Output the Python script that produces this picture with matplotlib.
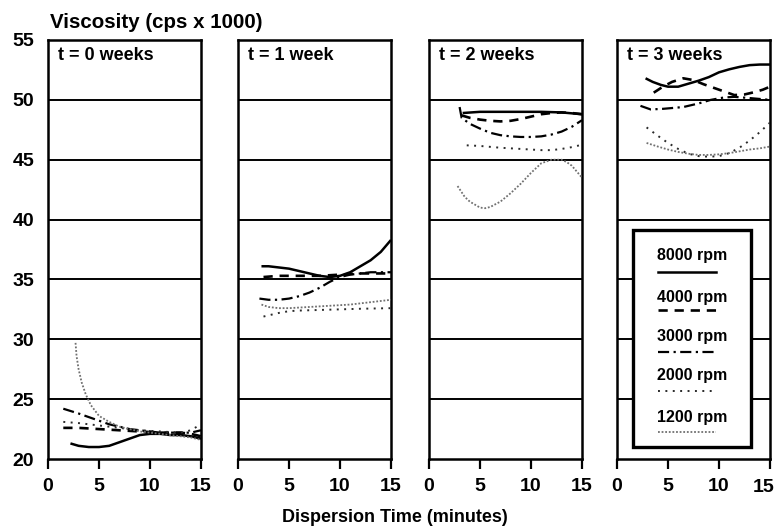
import matplotlib
matplotlib.use("Agg")
import matplotlib.pyplot as plt
from matplotlib.lines import Line2D
from matplotlib.patches import Rectangle

plt.rcParams['font.family'] = ['Liberation Sans', 'DejaVu Sans']
plt.rcParams['font.weight'] = 'bold'

# ---------------- data ----------------
panel_titles = ['t = 0 weeks', 't = 1 week', 't = 2 weeks', 't = 3 weeks']
speeds = ['8000 rpm', '4000 rpm', '3000 rpm', '2000 rpm', '1200 rpm']
x_ticks = [0, 5, 10, 15]
y_ticks = [20, 25, 30, 35, 40, 45, 50, 55]

# t = 0 weeks
w0_x8000 = [2.2, 3, 4, 5, 6, 7, 8, 9, 10, 11, 12, 13, 14, 15]
w0_y8000 = [21.3, 21.1, 21.0, 21.0, 21.1, 21.4, 21.7, 22.0, 22.1, 22.1, 22.0, 22.0, 21.9, 21.7]
w0_x4000 = [1.5, 3, 5, 7, 9, 11, 13, 14, 15]
w0_y4000 = [22.6, 22.6, 22.5, 22.4, 22.3, 22.2, 22.2, 22.1, 21.9]
w0_x3000 = [1.5, 3, 4, 5, 6, 7, 8, 9, 10, 11, 12, 13, 14, 15]
w0_y3000 = [24.2, 23.8, 23.5, 23.2, 22.9, 22.7, 22.5, 22.4, 22.3, 22.2, 22.2, 22.2, 22.2, 22.4]
w0_x2000 = [1.5, 3, 5, 7, 9, 11, 13, 14, 15]
w0_y2000 = [23.1, 23.0, 22.8, 22.6, 22.4, 22.3, 22.2, 22.4, 22.9]
w0_x1200 = [2.7, 2.8, 3.0, 3.3, 3.7, 4.2, 5, 6, 7, 8, 9, 10, 11, 12, 13, 14, 15]
w0_y1200 = [29.7, 28.6, 27.5, 26.4, 25.4, 24.5, 23.6, 23.1, 22.7, 22.5, 22.3, 22.2, 22.1, 22.0, 21.9, 21.8, 21.6]

# t = 1 week
w1_x8000 = [2.3, 3, 4, 5, 6, 7, 8, 9, 10, 11, 12, 13, 14, 15]
w1_y8000 = [36.1, 36.1, 36.0, 35.9, 35.7, 35.5, 35.3, 35.2, 35.3, 35.6, 36.1, 36.6, 37.3, 38.3]
w1_x4000 = [2.5, 4, 6, 8, 10, 12, 15]
w1_y4000 = [35.2, 35.3, 35.3, 35.3, 35.4, 35.5, 35.5]
w1_x3000 = [2.1, 3, 4, 5, 6, 7, 8, 9, 10, 11, 12, 13, 14, 15]
w1_y3000 = [33.4, 33.3, 33.3, 33.4, 33.6, 33.9, 34.3, 34.8, 35.2, 35.4, 35.5, 35.6, 35.6, 35.6]
w1_x2000 = [2.5, 3, 4, 5, 6, 8, 10, 12, 15]
w1_y2000 = [31.9, 32.0, 32.2, 32.35, 32.4, 32.45, 32.5, 32.55, 32.6]
w1_x1200 = [2.3, 3, 4, 5, 7, 9, 11, 13, 15]
w1_y1200 = [32.9, 32.7, 32.6, 32.6, 32.7, 32.8, 32.9, 33.1, 33.3]

# t = 2 weeks
w2_x8000 = [3.3, 5, 7, 9, 11, 13, 15]
w2_y8000 = [48.9, 49.0, 49.0, 49.0, 49.0, 48.95, 48.8]
w2_x4000 = [3.2, 4, 5, 6, 7, 8, 9, 10, 11, 12, 13, 14, 15]
w2_y4000 = [48.7, 48.5, 48.35, 48.25, 48.2, 48.25, 48.4, 48.6, 48.8, 48.9, 48.95, 48.9, 48.8]
w2_x3000 = [3.0, 3.2, 4, 5, 6, 7, 8, 9, 10, 11, 12, 13, 14, 15]
w2_y3000 = [49.4, 48.5, 48.0, 47.6, 47.25, 47.05, 46.95, 46.9, 46.9, 46.95, 47.1, 47.35, 47.75, 48.3]
w2_x2000 = [3.7, 5, 7, 9, 11, 12, 13, 14, 15]
w2_y2000 = [46.2, 46.15, 46.0, 45.9, 45.8, 45.8, 45.9, 46.05, 46.25]
w2_x1200 = [2.8, 3.5, 4, 5, 5.5, 6, 7, 8, 9, 10, 11, 12, 13, 13.5, 14, 15]
w2_y1200 = [42.8, 41.9, 41.5, 41.0, 40.95, 41.05, 41.5, 42.2, 43.0, 43.9, 44.7, 45.0, 45.0, 44.8, 44.5, 43.5]

# t = 3 weeks
w3_x8000 = [2.8, 3.5, 4.3, 5, 6, 7, 8, 9, 10, 11, 12, 13, 14, 15]
w3_y8000 = [51.8, 51.5, 51.25, 51.1, 51.1, 51.35, 51.6, 51.9, 52.3, 52.55, 52.75, 52.9, 52.95, 52.95]
w3_x4000 = [3.6, 4.5, 5.4, 6.5, 7.5, 8.5, 9.5, 10.5, 11.5, 12.5, 13.5, 14.3, 15]
w3_y4000 = [50.6, 51.1, 51.5, 51.8, 51.65, 51.3, 51.0, 50.7, 50.4, 50.45, 50.65, 50.85, 51.1]
w3_x3000 = [2.3, 3.3, 4.5, 6.5, 8, 9.2, 10.5, 11.5, 13, 15]
w3_y3000 = [49.5, 49.2, 49.25, 49.4, 49.7, 50.0, 50.2, 50.25, 50.15, 50.0]
w3_x2000 = [2.9, 4, 5, 6, 7, 8, 9, 10, 11, 12, 13, 14, 15]
w3_y2000 = [47.7, 47.0, 46.4, 45.9, 45.5, 45.3, 45.25, 45.3, 45.55, 46.0, 46.6, 47.3, 48.1]
w3_x1200 = [2.9, 4, 5, 6, 7, 8, 9, 10, 11, 12, 13, 14, 15]
w3_y1200 = [46.4, 46.1, 45.85, 45.65, 45.5, 45.4, 45.4, 45.45, 45.55, 45.7, 45.85, 45.95, 46.1]

panels = [
    [(w0_x8000, w0_y8000), (w0_x4000, w0_y4000), (w0_x3000, w0_y3000), (w0_x2000, w0_y2000), (w0_x1200, w0_y1200)],
    [(w1_x8000, w1_y8000), (w1_x4000, w1_y4000), (w1_x3000, w1_y3000), (w1_x2000, w1_y2000), (w1_x1200, w1_y1200)],
    [(w2_x8000, w2_y8000), (w2_x4000, w2_y4000), (w2_x3000, w2_y3000), (w2_x2000, w2_y2000), (w2_x1200, w2_y1200)],
    [(w3_x8000, w3_y8000), (w3_x4000, w3_y4000), (w3_x3000, w3_y3000), (w3_x2000, w3_y2000), (w3_x1200, w3_y1200)],
]

# ---------------- styles ----------------
styles = [
    dict(color='black', lw=1.8, linestyle='-'),
    dict(color='black', lw=1.9, linestyle=(0, (3.5, 2.6))),
    dict(color='black', lw=1.6, linestyle=(0, (5, 2, 1, 2))),
    dict(color='#2a2a2a', lw=1.4, linestyle=(0, (1, 2.8))),
    dict(color='#707070', lw=1.3, linestyle=(0, (1, 1))),
]

W, H = 775, 527
fig = plt.figure(figsize=(W / 100, H / 100), dpi=100)
lefts = [48, 238, 429, 617]
pw = 153
top_px, bot_px = 40, 459
tick_fs = 14

axes = []
for i, lp in enumerate(lefts):
    ax = fig.add_axes([lp / W, 1 - bot_px / H, pw / W, (bot_px - top_px) / H])
    axes.append(ax)
    ax.set_xlim(0, 15)
    ax.set_ylim(20, 55)
    for s in ax.spines.values():
        s.set_linewidth(1.8)
    for yv in y_ticks[1:-1]:
        ax.axhline(yv, color='black', lw=1.4, zorder=1)
    ax.set_xticks(x_ticks)
    ax.set_yticks(y_ticks)
    if i == 3:
        ax.set_xticklabels([str(v) for v in x_ticks[:-1]] + [''])
        ax.annotate(str(x_ticks[-1]), xy=(x_ticks[-1], 0),
                    xycoords=('data', 'axes fraction'),
                    xytext=(5, -19.5), textcoords='offset pixels',
                    ha='right', va='top', fontsize=tick_fs, fontweight='bold')
    ax.tick_params(axis='x', direction='out', length=7, width=1.6, pad=7,
                   labelsize=tick_fs)
    ax.tick_params(axis='y', length=0, pad=10, labelsize=tick_fs)
    if i > 0:
        ax.tick_params(axis='y', labelleft=False)
    for lab in ax.get_xticklabels() + ax.get_yticklabels():
        lab.set_fontweight('bold')
    ax.text(0.065, 0.962, panel_titles[i], transform=ax.transAxes,
            fontsize=13, fontweight='bold', va='center', ha='left')
    for (xs, ys), st in zip(panels[i], styles):
        ax.plot(xs, ys, zorder=3, solid_capstyle='butt', dash_capstyle='butt', **st)

# legend box inside last panel
ax4 = axes[3]
ax4.add_patch(Rectangle((0.105, 0.029), 0.77, 0.518, transform=ax4.transAxes,
                        facecolor='white', edgecolor='black', lw=2.4, zorder=5))
text_y = [0.4845, 0.3866, 0.2912, 0.1981, 0.1002]
line_y = [0.4463, 0.3556, 0.2554, 0.1623, 0.0644]
for lab, ty, ly, st in zip(speeds, text_y, line_y, styles):
    ax4.text(0.493, ty, lab, transform=ax4.transAxes, ha='center', va='center',
             fontsize=11.5, fontweight='bold', zorder=6)
    ax4.add_line(Line2D([0.27, 0.645], [ly, ly], transform=ax4.transAxes,
                        zorder=6, dash_capstyle='butt', **st))

fig.text(50 / W, 1 - 22 / H, 'Viscosity (cps x 1000)', fontsize=14.8,
         fontweight='bold', ha='left', va='center')
fig.text(395 / W, 1 - 517 / H, 'Dispersion Time (minutes)', fontsize=13,
         fontweight='bold', ha='center', va='center')

fig.savefig('out.png', dpi=100)
